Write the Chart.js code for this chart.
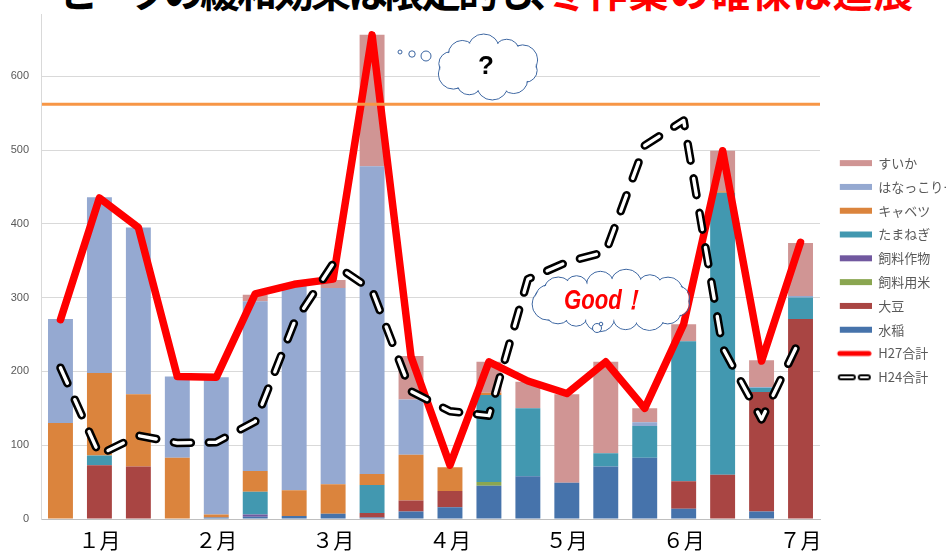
<!DOCTYPE html>
<html lang="ja">
<head>
<meta charset="utf-8">
<script src="https://cdn.jsdelivr.net/npm/chart.js@4"></script>
<style>
  html, body { margin: 0; padding: 0; background: #fff; }
  #wrap { position: relative; width: 946px; height: 555px; overflow: hidden; }
  #chart { position: absolute; left: 0; top: 0; }
  #title { position: absolute; left: 0; top: 0; width: 946px; height: 14px; overflow: hidden; background: #fff; }
  #title .t { position: absolute; left: 60px; top: -30px; font-family: "Noto Sans CJK JP"; font-weight: bold; font-size: 40px; line-height: 40px; white-space: nowrap; color: #000; font-feature-settings: "palt"; letter-spacing: -3px; }
  #title .red { color: #ff0000; letter-spacing: 1px; }
</style>
</head>
<body>
<div id="wrap">
  <canvas id="chart" width="946" height="555"></canvas>
  <div id="title"><span class="t">ピークの緩和効果は限定的も、<span class="red">冬作業の確保は進展</span></span></div>
</div>
<script>
// 20 periods, month names under every third bar
const categories = ["", "１月", "", "", "２月", "", "", "３月", "", "", "４月", "", "", "５月", "", "", "６月", "", "", "７月"];

// stacked crops (bottom to top)
const suito      = [0, 0, 0, 0, 2, 3, 4, 7, 2, 10, 16, 45, 58, 49, 71, 83, 14, 0, 10, 0];
const daizu      = [0, 73, 71, 0, 0, 0, 0, 0, 6, 15, 22, 0, 0, 0, 0, 0, 37, 60, 162, 271];
const shiryoMai  = [0, 0, 0, 0, 0, 0, 0, 0, 0, 0, 0, 5, 0, 0, 0, 0, 0, 0, 0, 0];
const shiryoSaku = [0, 0, 0, 0, 0, 3, 0, 0, 0, 0, 0, 0, 0, 0, 0, 0, 0, 0, 0, 0];
const tamanegi   = [0, 13, 0, 0, 0, 31, 0, 0, 38, 0, 0, 118, 92, 0, 18, 43, 190, 382, 6, 29];
const kyabetsu   = [130, 112, 98, 83, 4, 28, 35, 40, 15, 62, 32, 3, 0, 0, 0, 0, 0, 2, 0, 0];
const hanakkori  = [141, 238, 226, 110, 186, 230, 278, 266, 417, 75, 0, 0, 0, 0, 0, 5, 0, 0, 1, 2];
const suika      = [0, 0, 0, 0, 0, 9, 0, 11, 178, 59, 0, 42, 36, 120, 124, 19, 23, 55, 36, 72];

// totals
const h27 = [270, 435, 395, 193, 192, 305, 318, 325, 656, 220, 73, 213, 187, 170, 213, 150, 264, 499, 214, 375];
const h24 = [205, 87, 113, 103, 104, 132, 266, 346, 310, 173, 146, 140, 325, 348, 362, 506, 540, 232, 135, 245];

const limitValue = 562;
const yMax = 700;

function legendBox(color) {
  const c = document.createElement("canvas");
  c.width = 41; c.height = 8;
  const g = c.getContext("2d");
  g.fillStyle = color;
  g.fillRect(9, 1, 32, 6);
  return c;
}
function legendRed() {
  const c = document.createElement("canvas");
  c.width = 41; c.height = 8;
  const g = c.getContext("2d");
  g.strokeStyle = "#ff0000"; g.lineWidth = 5; g.lineCap = "round";
  g.beginPath(); g.moveTo(9, 4); g.lineTo(38, 4); g.stroke();
  return c;
}
function legendDash() {
  const c = document.createElement("canvas");
  c.width = 41; c.height = 10;
  const g = c.getContext("2d");
  g.lineCap = "round";
  [[10, 22], [30, 37]].forEach(([a, b]) => {
    g.strokeStyle = "#000"; g.lineWidth = 6;
    g.beginPath(); g.moveTo(a, 5); g.lineTo(b, 5); g.stroke();
    g.strokeStyle = "#fff"; g.lineWidth = 2.2;
    g.beginPath(); g.moveTo(a, 5); g.lineTo(b, 5); g.stroke();
  });
  return c;
}

const bars = [
  ["水稲", suito, "#4673AB"],
  ["大豆", daizu, "#A94543"],
  ["飼料用米", shiryoMai, "#8AA650"],
  ["飼料作物", shiryoSaku, "#71589F"],
  ["たまねぎ", tamanegi, "#4298B0"],
  ["キャベツ", kyabetsu, "#DB843D"],
  ["はなっこりー", hanakkori, "#95A9D1"],
  ["すいか", suika, "#D09594"]
];

const datasets = bars.map(([label, data, color]) => ({
  type: "bar", label, data, backgroundColor: color, stack: "crops", order: 3,
  barPercentage: 0.64, categoryPercentage: 1, pointStyle: legendBox(color)
}));
datasets.push({
  type: "line", label: "H27合計", data: h27, stack: "h27", order: 2,
  borderColor: "#ff0000", borderWidth: 7.5, borderJoinStyle: "round", borderCapStyle: "round",
  pointRadius: 0, pointHoverRadius: 0, tension: 0, pointStyle: legendRed()
});
datasets.push({
  type: "line", label: "H24合計", data: h24, stack: "h24", order: 1,
  borderColor: "#000", borderWidth: 8.5, borderDash: [17, 18], borderCapStyle: "round", borderJoinStyle: "round",
  pointRadius: 0, pointHoverRadius: 0, tension: 0, pointStyle: legendDash()
});
// white core of the H24 dashes
datasets.push({
  type: "line", label: "_inner", data: h24, stack: "h24w", order: 0,
  borderColor: "#fff", borderWidth: 3.4, borderDash: [17, 18], borderCapStyle: "round", borderJoinStyle: "round",
  pointRadius: 0, pointHoverRadius: 0, tension: 0
});

const legendRank = i => (i < 8 ? 7 - i : i);

function cloud(ctx, cx, cy, rx, ry, n, r) {
  const pts = [];
  for (let i = 0; i < n; i++) {
    const a = (i / n) * Math.PI * 2 + 0.2;
    pts.push([cx + rx * Math.cos(a), cy + ry * Math.sin(a), r * (0.85 + 0.3 * ((i * 7) % 5) / 4)]);
  }
  ctx.strokeStyle = "#3A64A0";
  ctx.lineWidth = 1;
  pts.forEach(([x, y, rr]) => { ctx.beginPath(); ctx.arc(x, y, rr, 0, Math.PI * 2); ctx.stroke(); });
  ctx.fillStyle = "#fff";
  pts.forEach(([x, y, rr]) => { ctx.beginPath(); ctx.arc(x, y, rr - 1, 0, Math.PI * 2); ctx.fill(); });
  ctx.beginPath(); ctx.ellipse(cx, cy, rx + 2, ry + 2, 0, 0, Math.PI * 2); ctx.fill();
}
function bubble(ctx, x, y, r) {
  ctx.beginPath(); ctx.arc(x, y, r, 0, Math.PI * 2);
  ctx.fillStyle = "#fff"; ctx.fill();
  ctx.strokeStyle = "#3A64A0"; ctx.lineWidth = 1; ctx.stroke();
}

const annotate = {
  id: "annotate",
  afterInit(chart) {
    const lg = chart.legend;
    const fit = lg.fit.bind(lg);
    lg.fit = function () { fit(); this.width = 126; };
  },
  afterDatasetsDraw(chart) {
    const { ctx, chartArea, scales: { y } } = chart;
    const yy = y.getPixelForValue(limitValue);
    ctx.save();
    ctx.strokeStyle = "#F79646";
    ctx.lineWidth = 3;
    ctx.beginPath(); ctx.moveTo(chartArea.left + 1, yy); ctx.lineTo(chartArea.right, yy); ctx.stroke();

    // thought bubble with "?"
    bubble(ctx, 400, 52, 2); bubble(ctx, 412, 54, 3.2); bubble(ctx, 426, 56, 5);
    cloud(ctx, 488, 67, 38, 17, 10, 14);
    ctx.fillStyle = "#000";
    ctx.font = "bold 26px 'Liberation Sans'";
    ctx.textAlign = "center"; ctx.textBaseline = "middle";
    ctx.fillText("?", 486, 67);

    // "Good!" cloud
    cloud(ctx, 613, 301, 66, 16, 16, 14);
    bubble(ctx, 597, 328, 4.5); bubble(ctx, 601, 324, 1.8);
    ctx.fillStyle = "#ff0000";
    ctx.font = "italic bold 27px 'Liberation Sans'";
    ctx.translate(604, 302);
    ctx.scale(0.82, 1);
    ctx.fillText("Good！", 0, 0);
    ctx.restore();
  }
};

Chart.defaults.font.family = "'Noto Sans CJK JP', 'Liberation Sans', sans-serif";

new Chart(document.getElementById("chart"), {
  type: "bar",
  data: { labels: categories, datasets },
  options: {
    responsive: false,
    animation: false,
    layout: { padding: { top: 2.4, right: 0, bottom: 0, left: 0 } },
    plugins: {
      tooltip: { enabled: false },
      legend: {
        position: "right",
        fullSize: false,
        title: { display: true, text: "", font: { size: 1 }, padding: { top: 0, bottom: 17.8 } },
        labels: {
          usePointStyle: true, pointStyleWidth: 41, padding: 10.8,
          color: "#595959", font: { size: 13 },
          filter: item => item.datasetIndex !== 10,
          sort: (a, b) => legendRank(a.datasetIndex) - legendRank(b.datasetIndex)
        }
      }
    },
    scales: {
      x: {
        stacked: true,
        grid: { display: false, drawTicks: false },
        border: { color: "#BFBFBF" },
        ticks: { autoSkip: false, maxRotation: 0, minRotation: 0, color: "#000", font: { size: 21 }, padding: 8 },
        afterFit: s => { s.height = 36; s.paddingLeft = 0; s.paddingRight = 0; }
      },
      y: {
        stacked: true, min: 0, max: yMax,
        ticks: { stepSize: 100, color: "#595959", font: { size: 11, family: "'Liberation Sans'" }, padding: 12 },
        grid: { color: "#D9D9D9", drawTicks: false },
        border: { color: "#D9D9D9" },
        afterBuildTicks: s => { s.ticks = s.ticks.filter(t => t.value <= 600); },
        afterFit: s => { s.width = 41; s.paddingTop = 0; s.paddingBottom = 0; }
      }
    }
  },
  plugins: [annotate]
});
</script>
</body>
</html>
